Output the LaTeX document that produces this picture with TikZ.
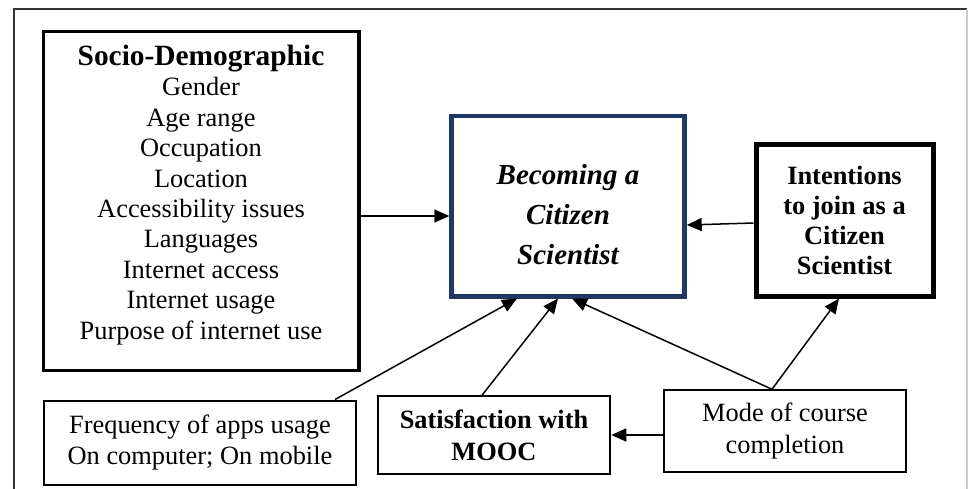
\documentclass[tikz,border=0pt]{standalone}
\usepackage{fontspec}
\setmainfont{Liberation Serif}
\usetikzlibrary{arrows.meta}
\definecolor{boxblue}{RGB}{31,56,100}

\begin{document}
\begin{tikzpicture}[x=1pt,y=-1pt]
\tikzstyle{every node}+=[inner sep=0pt, align=center, font=\fontsize{26.4}{30.4}\selectfont]
\tikzstyle{thinbox}=[draw=black, line width=2pt, rectangle]
\tikzstyle{thickbox}=[draw=black, line width=5pt, rectangle]
\tikzstyle{link}=[black, line width=1.5pt, -{Triangle[length=15pt,width=13pt]}]
\clip (0,0) rectangle (969,488);
\draw [black!80, line width=2pt] (14,496) -- (14,8.5) -- (967,8.5);
\draw [black!20, line width=1.5pt] (967,8.5) -- (967,496);
\node [thickbox, line width=3.5pt, minimum width=315.5pt, minimum height=339pt,
  label={[yshift=6pt]center:{\fontsize{29.4}{30.4}\selectfont\bfseries Socio-Demographic}\\Gender\\Age range\\Occupation\\Location\\Accessibility issues\\Languages\\Internet access\\Internet usage\\Purpose of internet use}]
  (soc) at (201,201) {};
\node [thickbox, draw=boxblue, line width=4.5pt, minimum width=233pt, minimum height=180.5pt,
  label={[yshift=-9pt, font=\fontsize{29}{40}\selectfont\bfseries\itshape]center:Becoming a\\Citizen\\Scientist}]
  (cit) at (568,206) {};
\node [thickbox, minimum width=177pt, minimum height=152pt, font=\fontsize{26.4}{30}\selectfont\bfseries]
  (int) at (844.5,220) {Intentions\\to join as a\\Citizen\\Scientist};
\node [thinbox, minimum width=311.5pt, minimum height=84pt]
  (freq) at (200,442.5) {Frequency of apps usage\\On computer; On mobile};
\node [thinbox, minimum width=232.5pt, minimum height=77.5pt, font=\fontsize{26.4}{32}\selectfont\bfseries]
  (sat) at (494,435) {Satisfaction with\\MOOC};
\node [thinbox, minimum width=241.5pt, minimum height=81.5pt, font=\fontsize{26.4}{32}\selectfont]
  (mode) at (785,431) {Mode of course\\completion};
\draw [link] ([yshift=-15pt]soc.east) -- ([yshift=-10pt]cit.west);
\draw [link] ([yshift=-3pt]int.west) -- ([yshift=-19pt]cit.east);
\draw [link] ([xshift=135pt]freq.north) -- ([xshift=-51pt]cit.south);
\draw [link] ([xshift=-12pt]sat.north) -- ([xshift=-10pt]cit.south);
\draw [link] ([xshift=-13pt]mode.north) -- ([xshift=4pt]cit.south);
\draw [link] ([xshift=-13pt]mode.north) -- ([xshift=-5.5pt]int.south);
\draw [link] ([yshift=-4pt]mode.west) -- (sat.east);
\end{tikzpicture}
\end{document}
